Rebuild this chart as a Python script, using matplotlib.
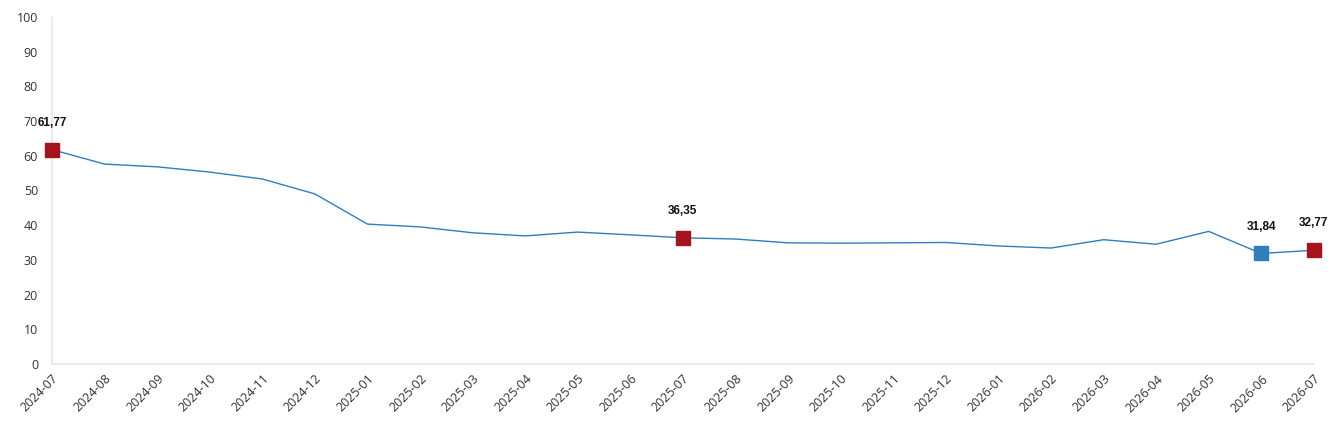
import matplotlib
matplotlib.use("Agg")
import matplotlib.pyplot as plt
import numpy as np

months = ["2024-07", "2024-08", "2024-09", "2024-10", "2024-11", "2024-12",
          "2025-01", "2025-02", "2025-03", "2025-04", "2025-05", "2025-06",
          "2025-07", "2025-08", "2025-09", "2025-10", "2025-11", "2025-12",
          "2026-01", "2026-02", "2026-03", "2026-04", "2026-05", "2026-06",
          "2026-07"]
values = [61.77, 57.6, 56.8, 55.3, 53.3, 49.0,
          40.3, 39.5, 37.8, 36.9, 38.0, 37.2,
          36.35, 36.0, 34.9, 34.8, 34.9, 35.0,
          34.0, 33.4, 35.8, 34.5, 38.2, 31.84,
          32.77]
red_idx = [0, 12, 24]
blue_idx = [23]

line_color = "#2E7EC0"
red = "#A5141C"
blue = "#2F7EBD"

fig = plt.figure(figsize=(13.43, 4.46), dpi=100)
ax = fig.add_axes([0.0387, 0.184, 0.9396, 0.778])

x = np.arange(len(months))
ax.plot(x, values, color=line_color, lw=1.0, zorder=2)

for idx, col in [(red_idx, red), (blue_idx, blue)]:
    ax.plot(x[idx], [values[i] for i in idx], ls="none", marker="s",
            markersize=10.5, color=col, zorder=3, clip_on=False)
    for i in idx:
        ax.annotate(f"{values[i]:.2f}".replace(".", ","), (x[i], values[i]),
                    xytext=(0, 15), textcoords="offset points", ha="center",
                    va="bottom", fontsize=8.5, fontweight="bold",
                    family="Liberation Sans", color="#111111")

ax.set_xlim(0, len(months) - 1)
ax.set_ylim(0, 100)
ax.set_yticks(range(0, 101, 10))
ax.set_xticks(x)
ax.set_xticklabels(months, rotation=45, ha="right", rotation_mode="anchor")

for lab in ax.get_xticklabels() + ax.get_yticklabels():
    lab.set_family("Open Sans")
    lab.set_fontsize(9)
    lab.set_color("#333333")

ax.tick_params(axis="both", length=0)
ax.tick_params(axis="y", pad=10)
ax.tick_params(axis="x", pad=6)
for s in ["top", "right"]:
    ax.spines[s].set_visible(False)
for s in ["left", "bottom"]:
    ax.spines[s].set_color("#E3E6EC")
    ax.spines[s].set_linewidth(1.2)

plt.savefig("out.png", dpi=100)
